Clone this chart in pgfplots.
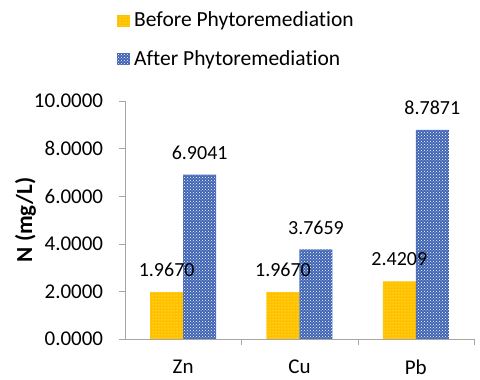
\documentclass[border=0pt]{standalone}
\usepackage{fontspec}
\setmainfont{Carlito}[Ligatures=NoCommon]
\usepackage{pgfplots}
\usepackage{pgfplotstable}
\pgfplotsset{compat=1.18}
\usetikzlibrary{patterns}
\definecolor{goldbar}{HTML}{FFC000}
\definecolor{bluebar}{HTML}{3F64B4}
\definecolor{axisgray}{HTML}{A6A6A6}

\pgfplotstableread{
x before after
0 1.9670 6.9041
1 1.9670 3.7659
2 2.4209 8.7871
}\metals

\begin{document}
\fontsize{20}{24}\selectfont
\begin{tikzpicture}
\path[use as bounding box] (-125pt,-41pt) rectangle (355pt,339pt);
\begin{axis}[
    scale only axis,
    width=349pt, height=238pt,
    ybar=0pt, bar width=33pt,
    xmin=-0.5, xmax=2.5,
    ymin=0, ymax=10,
    ytick={0,2,...,10},
    xtick={0,1,2},
    xticklabels={Zn,Cu,Pb},
    minor xtick={0.5,1.5,2.5},
    major x tick style={draw=none},
    minor x tick style={draw=axisgray},
    minor tick length=6pt,
    major tick length=6pt,
    tick align=outside,
    axis x line*=bottom,
    axis y line*=left,
    axis line style={draw=axisgray, line width=0.8pt},
    y axis line style={-},
    x axis line style={-},
    ytick style={draw=axisgray},
    /pgf/number format/assume math mode=true,
    tick label style={font=\fontsize{21}{24}\selectfont},
    yticklabel style={xshift=-9pt, /pgf/number format/fixed,
        /pgf/number format/fixed zerofill, /pgf/number format/precision=4},
    xticklabel style={yshift=-8pt},
    ylabel={\bfseries N (mg/L)},
    ylabel style={font=\fontsize{23}{26}\selectfont, at={(axis description cs:-0.285,0.5)}, anchor=center},
    nodes near coords,
    nodes near coords style={anchor=center, yshift=22pt,
        /pgf/number format/fixed, /pgf/number format/fixed zerofill,
        /pgf/number format/precision=4},
    legend style={draw=none, at={(axis description cs:-0.023,1.385)}, anchor=north west,
        font=\fontsize{21.5}{24}\selectfont,
        legend cell align=left, row sep=17pt, inner sep=0pt,
        /tikz/every even column/.append style={column sep=6pt},
        /tikz/every odd column/.append style={column sep=2pt}},
    legend image code/.code={\draw[#1, draw=none] (0pt,-6pt) rectangle (13pt,6pt);},
]
\addplot[fill=goldbar, draw=none,
    postaction={pattern=dots, pattern color=yellow!55}]
    table[x=x, y=before] {\metals};
\addlegendentry{Before Phytoremediation}
\addplot[fill=bluebar, draw=none,
    postaction={pattern=crosshatch dots, pattern color=white}]
    table[x=x, y=after] {\metals};
\addlegendentry{After Phytoremediation}
\end{axis}
\end{tikzpicture}
\end{document}
